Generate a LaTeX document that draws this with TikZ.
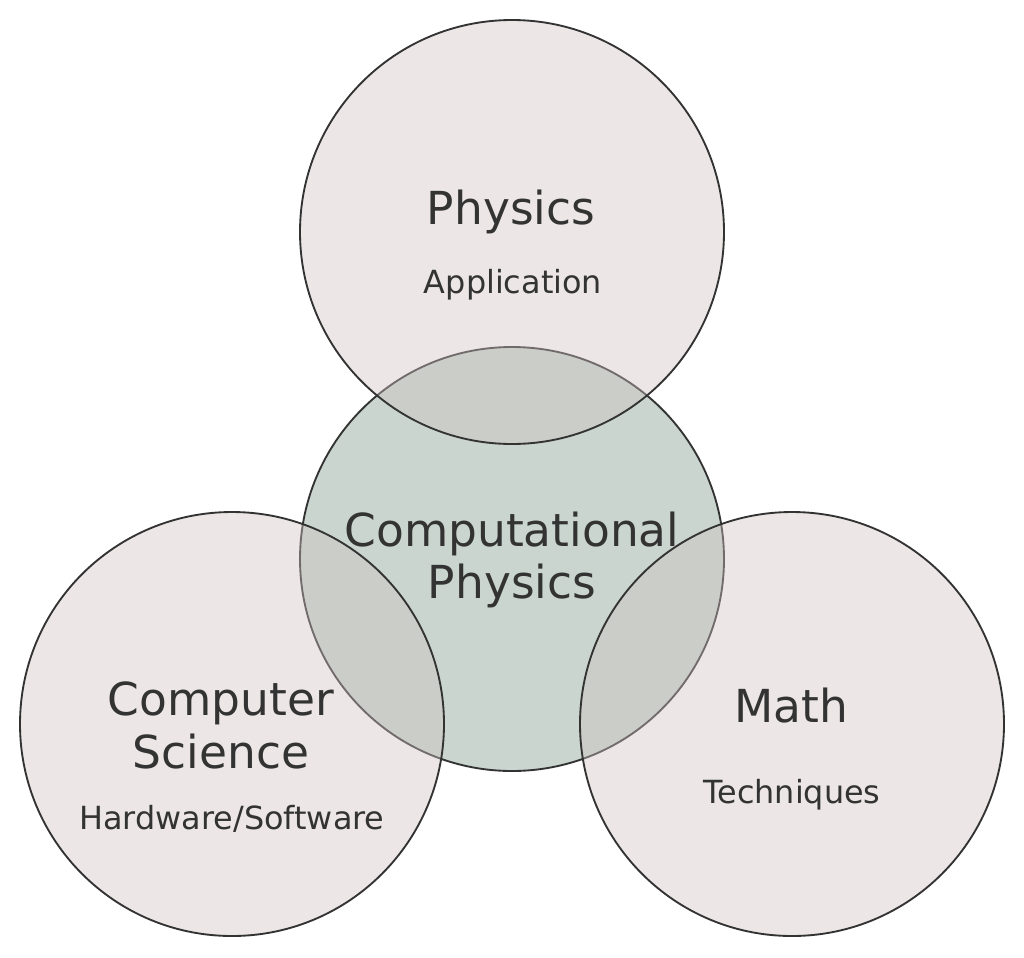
\documentclass[tikz,border=0pt]{standalone}
\usepackage{fontspec}
\setmainfont{DejaVu Sans}
\definecolor{outerfill}{RGB}{208,193,193}
\definecolor{centerfill}{RGB}{201,213,206}
\definecolor{ink}{RGB}{51,51,51}
\tikzset{
  venn/.style={circle, inner sep=0pt, minimum size=318pt, draw=ink, line width=1.4pt},
  outer/.style={venn, fill=outerfill, fill opacity=0.4, draw opacity=1},
  inner/.style={venn, fill=centerfill},
  mainlbl/.style={anchor=base, inner sep=0pt, text=ink, font=\fontsize{34.1pt}{40pt}\selectfont},
  sublbl/.style={anchor=base, inner sep=0pt, text=ink, font=\fontsize{23.9pt}{28pt}\selectfont},
}
\begin{document}
\begin{tikzpicture}[x=0.75pt, y=-0.75pt]
\useasboundingbox (0,0) rectangle (1024,957);
\fill[white] (0,0) rectangle (1024,957);
\node[inner] (cp) at (512,559) {};
\node[outer] (ph) at (512,232) {};
\node[outer] (cs) at (232,724) {};
\node[outer] (ma) at (792,724) {};
\node[mainlbl] (phT) at (511,224) {Physics};
\node[sublbl] (phS) at (513,293) {Application};
\node[mainlbl] (cpT1) at (512,546) {Computational};
\node[mainlbl] (cpT2) at (512,598) {Physics};
\node[mainlbl] (csT1) at (221,715) {Computer};
\node[mainlbl] (csT2) at (221,768) {Science};
\node[sublbl] (csS) at (232,829) {Hardware/Software};
\node[mainlbl] (maT) at (791,722) {Math};
\node[sublbl] (maS) at (792,803) {Techniques};
\end{tikzpicture}
\end{document}
